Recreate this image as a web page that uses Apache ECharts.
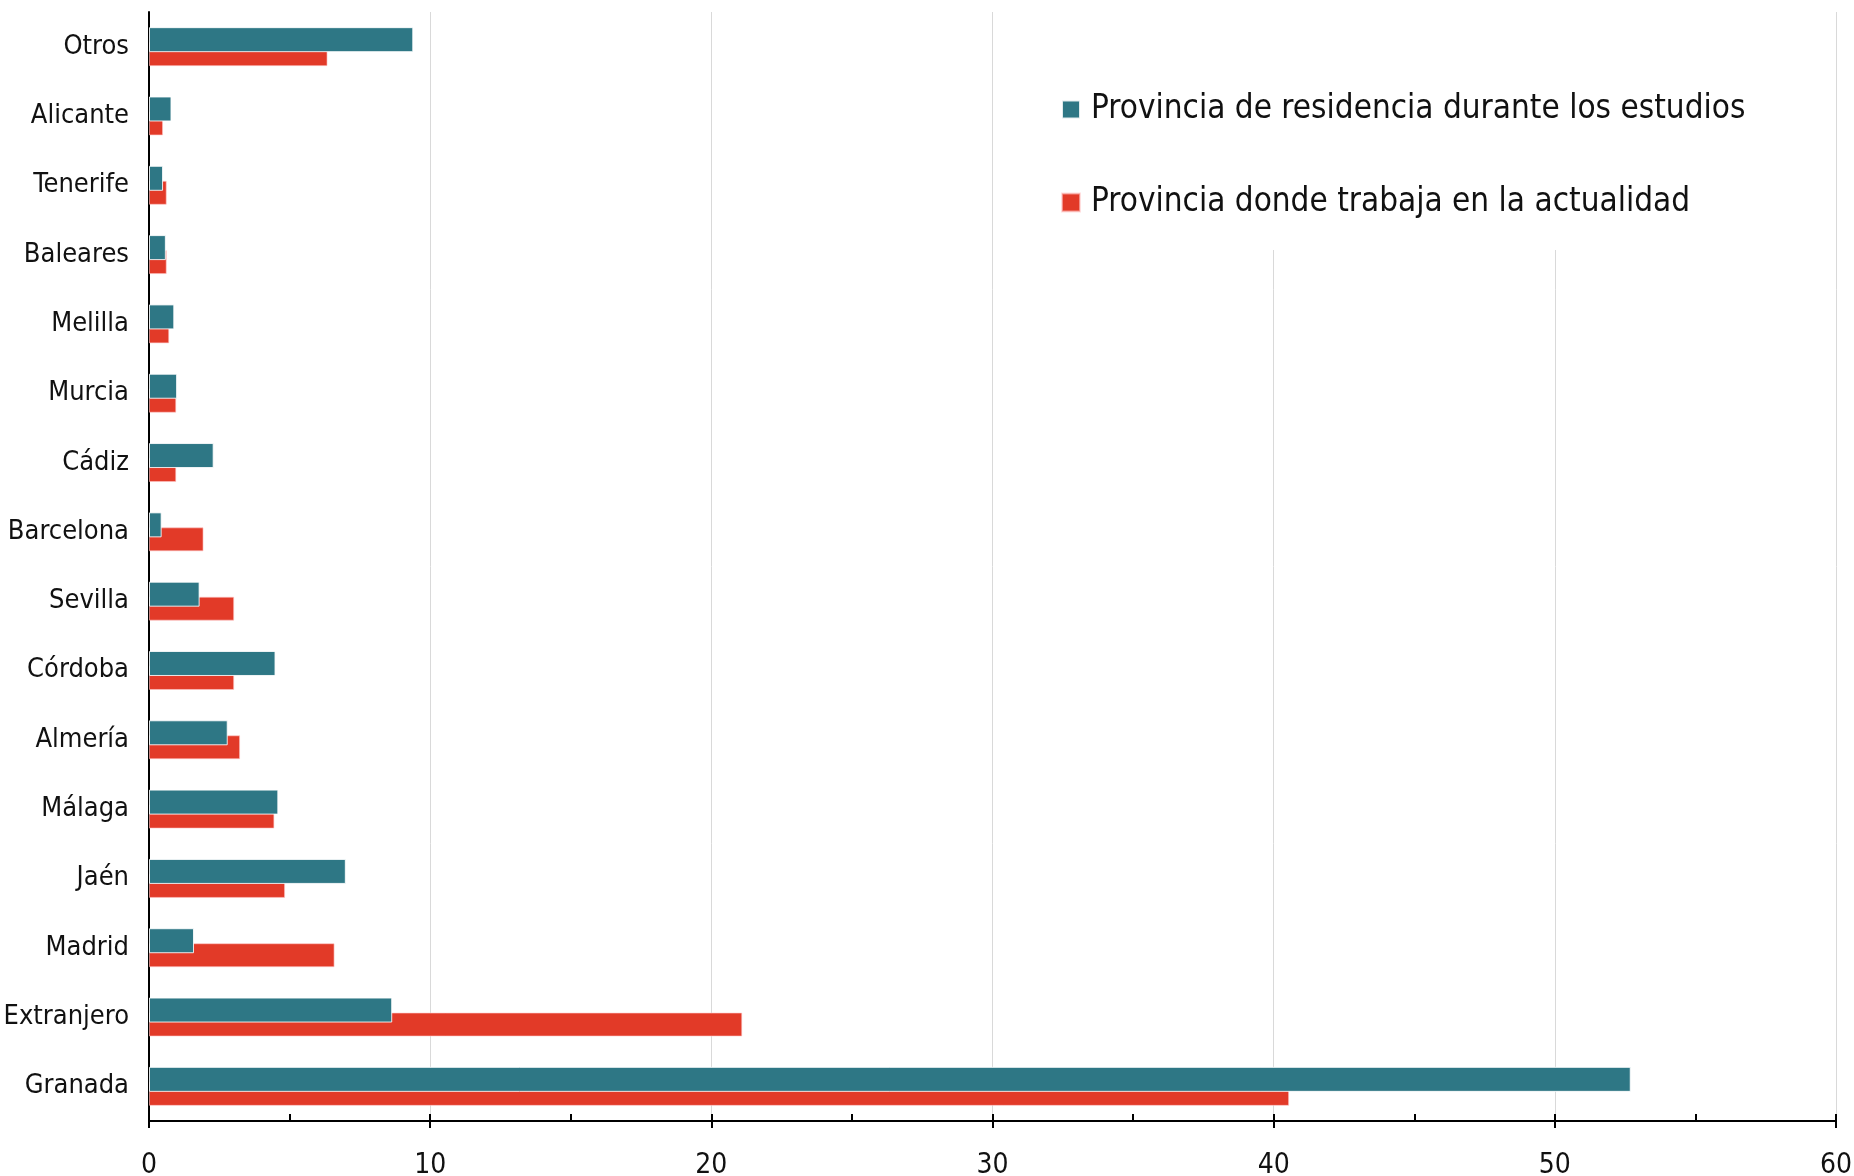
<!DOCTYPE html>
<html>
<head>
<meta charset="utf-8">
<script src="https://cdn.jsdelivr.net/npm/echarts@6/dist/echarts.min.js"></script>
<style>
  html, body { margin: 0; padding: 0; background: #fff; }
  #chart { width: 1854px; height: 1176px; }
</style>
</head>
<body>
<div id="chart"></div>
<script>
// categories listed top to bottom as in the picture
const provincias = ['Otros', 'Alicante', 'Tenerife', 'Baleares', 'Melilla', 'Murcia', 'Cádiz', 'Barcelona',
  'Sevilla', 'Córdoba', 'Almería', 'Málaga', 'Jaén', 'Madrid', 'Extranjero', 'Granada']
const residenciaEstudios = [9.4, 0.8, 0.5, 0.6, 0.9, 1.0, 2.3, 0.45, 1.8, 4.5, 2.8, 4.6, 7.0, 1.6, 8.65, 52.7]
const trabajoActual = [6.35, 0.5, 0.63, 0.63, 0.72, 0.97, 0.97, 1.94, 3.03, 3.03, 3.24, 4.46, 4.84, 6.6, 21.1, 40.55]
const xTicks = [0, 10, 20, 30, 40, 50, 60]

const nombreResidencia = 'Provincia de residencia durante los estudios'
const nombreTrabajo = 'Provincia donde trabaja en la actualidad'

const FONT = '"Liberation Sans Narrow", "DejaVu Sans Condensed", "Open Sans", sans-serif'
const TEAL = '#2e7785'
const RED = '#e23a28'

let myChart = echarts.init(document.getElementById('chart'))
let option = {
  animation: false,
  textStyle: { fontFamily: FONT },
  grid: { left: 149, right: 18, top: 12, bottom: 55, containLabel: false, outerBoundsMode: 'none' },
  legend: {
    orient: 'vertical',
    left: 1040,
    top: 12,
    backgroundColor: '#fff',
    padding: [81, 40, 31, 21],
    itemWidth: 18,
    itemHeight: 18,
    itemGap: 60,
    icon: 'rect',
    data: [nombreResidencia, nombreTrabajo],
    textStyle: { fontSize: 33, color: '#111', fontFamily: FONT, padding: [0, 0, 0, 6] }
  },
  xAxis: [
    {
      type: 'value',
      min: xTicks[0],
      max: xTicks[xTicks.length - 1],
      interval: 10,
      axisLine: { show: true, lineStyle: { color: '#000', width: 2 } },
      axisTick: { show: true, length: 7, lineStyle: { color: '#000', width: 2 } },
      axisLabel: { fontSize: 28, color: '#111', margin: 31, fontFamily: FONT },
      splitLine: { show: true, lineStyle: { color: '#d9d9d9', width: 1 } }
    },
    {
      type: 'value',
      position: 'bottom',
      min: 0,
      max: 60,
      interval: 5,
      axisLine: { show: false },
      axisTick: { show: true, inside: true, length: 7, lineStyle: { color: '#000', width: 2 } },
      axisLabel: { show: false },
      splitLine: { show: false }
    }
  ],
  yAxis: {
    type: 'category',
    inverse: true,
    data: provincias,
    axisLine: { show: true, lineStyle: { color: '#000', width: 2 } },
    axisTick: { show: false },
    axisLabel: { fontSize: 27, color: '#111', margin: 20, fontFamily: FONT }
  },
  series: [
    {
      name: nombreResidencia,
      type: 'bar',
      xAxisIndex: 0,
      z: 3,
      barWidth: 25,
      barGap: '-40%',
      itemStyle: { color: TEAL, borderColor: 'rgba(255,255,255,0.85)', borderWidth: 1 },
      data: residenciaEstudios
    },
    {
      name: nombreTrabajo,
      type: 'bar',
      xAxisIndex: 0,
      z: 2,
      barWidth: 24,
      itemStyle: { color: RED, borderColor: 'rgba(255,200,200,0.6)', borderWidth: 1 },
      data: trabajoActual
    }
  ]
}
myChart.setOption(option)
</script>
</body>
</html>
